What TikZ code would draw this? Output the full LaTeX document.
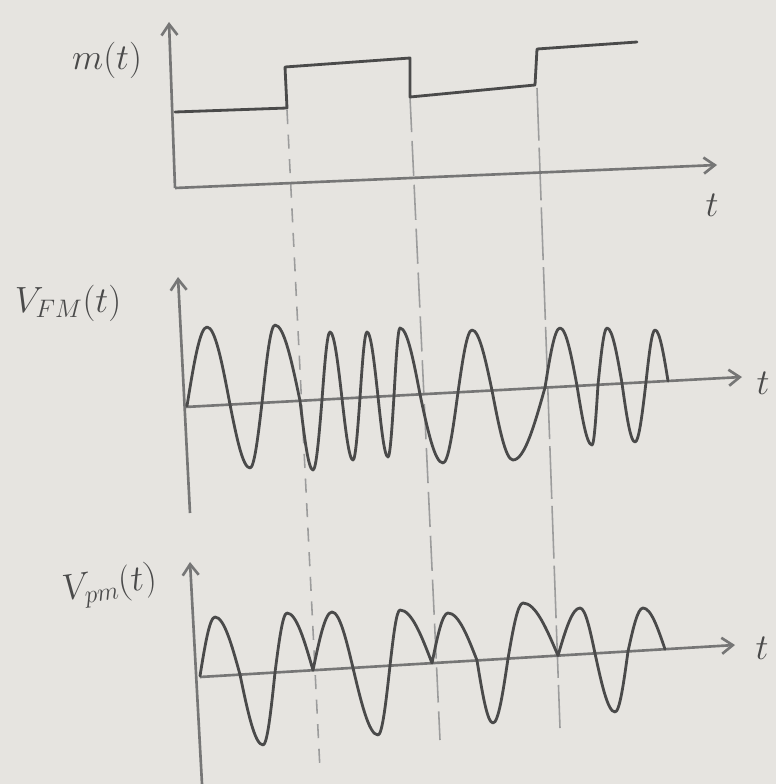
\documentclass[tikz,border=0pt]{standalone}
\usepackage{tikz}
\usetikzlibrary{arrows.meta}
\definecolor{pencil}{HTML}{4A4A4A}
\definecolor{graphite}{HTML}{767676}
\definecolor{faint}{HTML}{9C9C9C}
\definecolor{paper}{HTML}{E6E4E0}

\begin{document}
\begin{tikzpicture}[x=0.02cm,y=-0.02cm,
  ax/.style={draw=graphite,line width=1.5pt,-{Straight Barb[length=2.2mm,width=3.2mm]}},
  wave/.style={draw=pencil,line width=1.6pt,line join=round,line cap=round},
  guide/.style={draw=faint,line width=0.9pt,dash pattern=on 8pt off 6pt},
  lab/.style={text=pencil,font=\huge},
  tlab/.style={text=pencil,font=\huge}]
\path[use as bounding box,fill=paper] (0,0) rectangle (776,784);
\coordinate (mO) at (175,188);
\coordinate (mY) at (169,22);
\coordinate (mX) at (717,165);
\coordinate (fO) at (190,513);
\coordinate (fY) at (178,277);
\coordinate (fA) at (185,407);
\coordinate (fX) at (742,377);
\coordinate (pO) at (202,784);
\coordinate (pY) at (190,562);
\coordinate (pA) at (200,677);
\coordinate (pX) at (735,645);
\draw[guide] (287,110) -- (320,770);
\draw[guide,dash pattern=on 20pt off 5pt] (410,97) -- (440,740);
\draw[guide,dash pattern=on 30pt off 4pt] (537,88) -- (560,728);
\draw[ax] (mO) -- (mY);
\draw[ax] (mO) -- (mX);
\draw[ax] (fO) -- (fY);
\draw[ax] (fA) -- (fX);
\draw[ax] (pO) -- (pY);
\draw[ax] (pA) -- (pX);
\node[lab] (mlab) at (107,60) {$m(t)$};
\node[tlab] (mt) at (712,205) {$t$};
\node[lab] (flab) at (68,303) {$V_{FM}(t)$};
\node[tlab] (ft) at (763,383) {$t$};
\node[lab,rotate=8] (plab) at (110,586) {$V_{pm}(t)$};
\node[tlab] (pt) at (762,648) {$t$};
\draw[wave] (175,112) -- (287,108) -- (285,67) -- (410,58) -- (410,97)
  -- (535,85) -- (537,49) -- (637,42);
\draw[wave] (187,406) sin (207,327) cos (230,404.6) sin (250,468) cos (262,402.8)
  sin (275,325) cos (300,400.8) sin (313,470) cos (322,399.6)
  sin (330,332) cos (342,398.5) sin (353,460) cos (360,397.5)
  sin (367,332) cos (378,396.6) sin (388,457) cos (394,395.7)
  sin (400,328) cos (420,394.3) sin (443,463) cos (458,392.2)
  sin (472,330) cos (492,390.4) sin (513,460) cos (545,387.5)
  sin (560,328) cos (577,385.8) sin (592,445) cos (598,384.7)
  sin (607,328) cos (622,383.4) sin (635,442) cos (646,382.1)
  sin (655,330) cos (668,380.9);
\draw[wave] (200,676) sin (215,617) cos (240,674.6) sin (263,745) cos (275,672.5)
  sin (287,613) cos (313,670.2) sin (332,612) cos (353,667.9)
  sin (378,735) cos (390,665.6) sin (400,610) cos (432,663.1)
  sin (448,613) cos (477,660.4) sin (493,723) cos (508,658.6)
  sin (523,603) cos (558,655.6) sin (580,608) cos (595,653.4)
  sin (615,712) cos (628,651.4) sin (643,608) cos (665,649.2);
\end{tikzpicture}
\end{document}
